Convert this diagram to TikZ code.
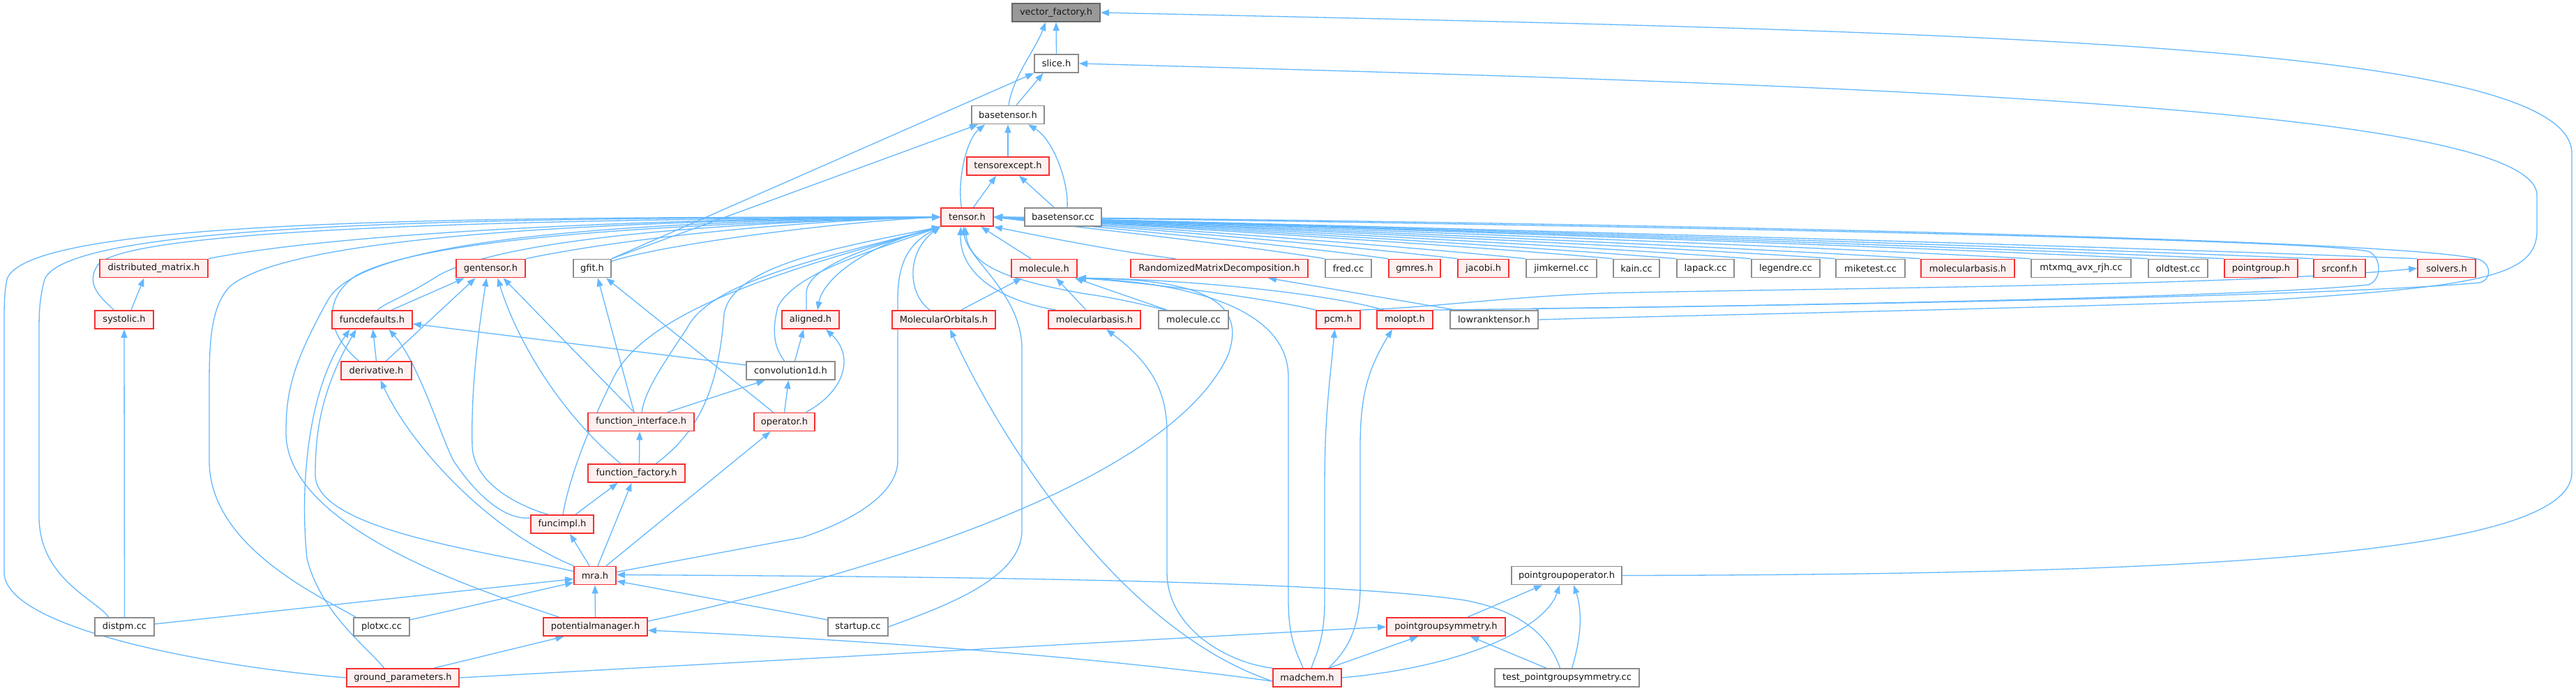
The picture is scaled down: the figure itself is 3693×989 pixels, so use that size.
\documentclass[tikz,border=0pt]{standalone}
\usepackage{fontspec}
\setmainfont{DejaVu Sans}
\usetikzlibrary{arrows.meta,backgrounds}
\definecolor{eblue}{HTML}{63B8FF}
\definecolor{nred}{HTML}{F53030}
\definecolor{nredfill}{HTML}{FFF0F0}
\definecolor{ngray}{HTML}{8C8C8C}
\definecolor{vfborder}{HTML}{666666}
\definecolor{vffill}{HTML}{999999}
\begin{document}
\begin{tikzpicture}[x=1pt,y=-1pt,
  base/.style={rectangle,minimum height=26pt,inner sep=0pt,line width=1.8pt,font=\fontsize{13}{15}\selectfont,text=black!90},
  rbox/.style={base,draw=nred,fill=nredfill},
  gbox/.style={base,draw=ngray,fill=white},
  vbox/.style={base,draw=vfborder,fill=vffill},
  inc/.style={draw=eblue,line width=1.3pt,arrows={Triangle[length=12pt,width=9pt,fill=eblue]-}}]
\useasboundingbox (0,0) rectangle (3693,989);
% ---------- nodes ----------
\node[vbox,minimum width=126pt] (vf) at (1514,18) {vector\_factory.h};
\node[gbox,minimum width=63pt] (slice) at (1514.5,91) {slice.h};
\node[gbox,minimum width=104pt] (basetensor) at (1445,164.5) {basetensor.h};
\node[rbox,minimum width=118pt] (tensorexcept) at (1445,238) {tensorexcept.h};
\node[rbox,minimum width=75pt] (tensor) at (1386.5,311) {tensor.h};
\node[gbox,minimum width=110pt] (basetensorcc) at (1524,311) {basetensor.cc};
% row 5
\node[rbox,minimum width=155pt] (distmat) at (220.5,384.5) {distributed\_matrix.h};
\node[rbox,minimum width=99pt] (gentensor) at (703.5,384.5) {gentensor.h};
\node[gbox,minimum width=54pt] (gfit) at (849,384.5) {gfit.h};
\node[rbox,minimum width=94pt] (molecule) at (1497,384.5) {molecule.h};
\node[rbox,minimum width=254pt] (rmd) at (1748,384.5) {RandomizedMatrixDecomposition.h};
\node[gbox,minimum width=66pt] (fred) at (1933,384.5) {fred.cc};
\node[rbox,minimum width=74pt] (gmres) at (2028,384.5) {gmres.h};
\node[rbox,minimum width=73pt] (jacobi) at (2126.5,384.5) {jacobi.h};
\node[gbox,minimum width=101pt] (jimkernel) at (2238.5,384.5) {jimkernel.cc};
\node[gbox,minimum width=66pt] (kain) at (2346,384.5) {kain.cc};
\node[gbox,minimum width=82pt] (lapack) at (2445,384.5) {lapack.cc};
\node[gbox,minimum width=98pt] (legendre) at (2560,384.5) {legendre.cc};
\node[gbox,minimum width=99pt] (miketest) at (2681.5,384.5) {miketest.cc};
\node[rbox,minimum width=134pt] (molbasisB) at (2821,384.5) {molecularbasis.h};
\node[gbox,minimum width=143pt] (mtxmq) at (2983.5,384.5) {mtxmq\_avx\_rjh.cc};
\node[gbox,minimum width=85pt] (oldtest) at (3122.5,384.5) {oldtest.cc};
\node[rbox,minimum width=105pt] (pointgroup) at (3241.5,384.5) {pointgroup.h};
\node[rbox,minimum width=74pt] (srconf) at (3354,384.5) {srconf.h};
\node[rbox,minimum width=83pt] (solvers) at (3507.5,384.5) {solvers.h};
% row 6
\node[rbox,minimum width=84pt] (systolic) at (178,458) {systolic.h};
\node[rbox,minimum width=115pt] (funcdefaults) at (533.5,458) {funcdefaults.h};
\node[rbox,minimum width=82pt] (aligned) at (1162,458) {aligned.h};
\node[rbox,minimum width=148pt] (molorb) at (1353,458) {MolecularOrbitals.h};
\node[rbox,minimum width=132pt] (molbasis) at (1569,458) {molecularbasis.h};
\node[gbox,minimum width=100pt] (moleculecc) at (1711,458) {molecule.cc};
\node[rbox,minimum width=63pt] (pcm) at (1918.5,458) {pcm.h};
\node[rbox,minimum width=80pt] (molopt) at (2014,458) {molopt.h};
\node[gbox,minimum width=126pt] (lowrank) at (2142,458) {lowranktensor.h};
% row 7
\node[rbox,minimum width=101pt] (derivative) at (539.5,531) {derivative.h};
\node[gbox,minimum width=127pt] (conv1d) at (1133.5,531) {convolution1d.h};
% row 8
\node[rbox,minimum width=152pt] (funcint) at (919,604.5) {function\_interface.h};
\node[rbox,minimum width=87pt] (operator) at (1124.5,604.5) {operator.h};
% row 9
\node[rbox,minimum width=139pt] (funcfac) at (912.5,678) {function\_factory.h};
% row 10
\node[rbox,minimum width=90pt] (funcimpl) at (806,751) {funcimpl.h};
% row 11
\node[rbox,minimum width=60pt] (mra) at (853,824.5) {mra.h};
\node[gbox,minimum width=158pt] (pgo) at (2246,824.5) {pointgroupoperator.h};
% row 12
\node[gbox,minimum width=85pt] (distpm) at (178.5,898) {distpm.cc};
\node[gbox,minimum width=80pt] (plotxc) at (547,898) {plotxc.cc};
\node[rbox,minimum width=149pt] (potman) at (853.5,898) {potentialmanager.h};
\node[gbox,minimum width=86pt] (startup) at (1230,898) {startup.cc};
\node[rbox,minimum width=170pt] (pgs) at (2073,898) {pointgroupsymmetry.h};
% row 13
\node[rbox,minimum width=161pt] (ground) at (577.5,971) {ground\_parameters.h};
\node[rbox,minimum width=98pt] (madchem) at (1874,971) {madchem.h};
\node[gbox,minimum width=207pt] (testpgs) at (2246.5,971) {test\_pointgroupsymmetry.cc};
% ---------- edges (behind the nodes) ----------
\begin{pgfonlayer}{background}
\fill[white] (0,0) rectangle (3693,989);
\draw[inc] (vf.south) -- (slice.north);
\draw[inc] ([xshift=-15pt]vf.south) .. controls (1485,70) and (1452,110) .. ([xshift=1pt]basetensor.north);
\draw[inc] (vf.east) .. controls (2800,45) and (3687,60) .. (3687,220) -- (3687,677) .. controls (3687,800) and (3100,823) .. (pgo.east);
\draw[inc] ([xshift=-19pt]slice.south) -- ([xshift=12pt]basetensor.north);
\draw[inc] (slice.south west) -- (gfit.north east);
\draw[inc] ([xshift=10pt]basetensor.south west) -- (gfit.north east);
\draw[inc] (slice.east) .. controls (2600,120) and (3637,150) .. (3637,280) -- (3637,330) .. controls (3637,395) and (3560,410) .. (3250,430) .. controls (2800,445) and (2400,452) .. (lowrank.east);
\draw[inc] (basetensor.south) -- (tensorexcept.north);
\draw[inc] ([xshift=-33pt]basetensor.south) .. controls (1385,200) and (1372,260) .. ([xshift=-8pt]tensor.north);
\draw[inc] ([xshift=29pt]basetensor.south) .. controls (1510,200) and (1532,260) .. ([xshift=6pt]basetensorcc.north);
\draw[inc] ([xshift=-17pt]tensorexcept.south) -- ([xshift=9pt]tensor.north);
\draw[inc] ([xshift=16pt]tensorexcept.south) -- ([xshift=-13pt]basetensorcc.north);
% tensor left fan
\draw[inc] (tensor.west) .. controls (1000,312) and (500,330) .. (distmat.north east);
\draw[inc] (tensor.west) .. controls (1150,316) and (900,340) .. (gentensor.north east);
\draw[inc] (tensor.west) .. controls (1200,318) and (950,350) .. (gfit.20);
\draw[inc] (tensor.west) .. controls (800,314) and (180,325) .. (140,380) .. controls (120,410) and (150,430) .. ([xshift=-15pt]systolic.north);
\draw[inc] (tensor.west) .. controls (700,312) and (100,318) .. (64,400) .. controls (56,430) and (56,450) .. (56,480) -- (56,740) .. controls (56,830) and (140,860) .. ([xshift=-23pt]distpm.north);
\draw[inc] (tensor.west) .. controls (700,311) and (40,312) .. (10,400) .. controls (6,420) and (6,440) .. (6,460) -- (6,820) .. controls (6,900) and (300,955) .. (ground.west);
\draw[inc] (tensor.west) .. controls (900,316) and (420,335) .. (330,410) .. controls (300,440) and (300,500) .. (300,560) -- (300,660) .. controls (300,780) and (450,850) .. ([xshift=-37pt]plotxc.north);
\draw[inc] (tensor.west) .. controls (900,318) and (520,340) .. (470,430) .. controls (420,520) and (410,560) .. (410,620) .. controls (410,760) and (700,850) .. ([xshift=-52pt]potman.north);
\draw[inc] (tensor.west) .. controls (1000,320) and (700,345) .. (620,400) .. controls (580,425) and (550,435) .. ([xshift=8pt]funcdefaults.north);
\draw[inc] (tensor.west) .. controls (900,322) and (600,345) .. (510,395) .. controls (460,430) and (470,480) .. ([xshift=-25pt]derivative.north);
% tensor from below-left
\draw[inc] (tensor.south west) .. controls (1150,380) and (930,440) .. (880,540) .. controls (840,620) and (815,690) .. ([xshift=1pt]funcimpl.north);
\draw[inc] (tensor.south west) .. controls (1200,355) and (1050,380) .. (1038,450) .. controls (1030,560) and (1000,620) .. ([xshift=28pt]funcfac.north);
\draw[inc] (tensor.south west) .. controls (1200,365) and (1020,400) .. (985,470) .. controls (945,530) and (925,560) .. ([xshift=1pt]funcint.north);
\draw[inc] (tensor.south west) .. controls (1250,360) and (1140,390) .. (1115,440) .. controls (1105,480) and (1112,500) .. ([xshift=-9pt]conv1d.north);
\draw[inc] (tensor.south west) .. controls (1260,350) and (1156,380) .. (1156,420) -- ([xshift=-6pt]aligned.north);
\draw[inc] ([xshift=10pt]aligned.north) .. controls (1180,400) and (1240,350) .. (tensor.south west);
\draw[inc] (tensor.south west) .. controls (1300,350) and (1287,380) .. (1287,430) -- (1287,660) .. controls (1287,700) and (1240,740) .. (1150,770) -- ([yshift=5pt]mra.east);
\draw[inc] (tensor.south west) .. controls (1300,360) and (1300,420) .. ([xshift=-20pt]molorb.north);
\draw[inc] ([xshift=-9pt]tensor.south) .. controls (1375,390) and (1430,430) .. ([xshift=-55pt]molbasis.north);
\draw[inc] ([xshift=-3pt]tensor.south) .. controls (1390,380) and (1440,400) .. (1550,420) .. controls (1620,430) and (1650,440) .. ([xshift=-38pt]moleculecc.north);
\draw[inc] ([xshift=-5pt]tensor.south) .. controls (1385,370) and (1465,420) .. (1465,500) -- (1465,760) .. controls (1465,830) and (1350,870) .. (startup.east);
\draw[inc] ([xshift=20pt]tensor.south) -- ([xshift=-19pt]molecule.north);
\draw[inc] (tensor.south east) .. controls (1500,340) and (1600,360) .. ([xshift=-63pt]rmd.north);
% tensor right fan
\draw[inc] (tensor.east) .. controls (1540,325) and (1772,350) .. (fred.north west);
\draw[inc] (tensor.east) .. controls (1568,325) and (1840,350) .. (gmres.north west);
\draw[inc] (tensor.east) .. controls (1597,325) and (1914,350) .. (jacobi.north west);
\draw[inc] (tensor.east) .. controls (1627,325) and (1988,350) .. (jimkernel.north west);
\draw[inc] (tensor.east) .. controls (1664,325) and (2081,350) .. (kain.north west);
\draw[inc] (tensor.east) .. controls (1691,325) and (2150,350) .. (lapack.north west);
\draw[inc] (tensor.east) .. controls (1723,325) and (2230,350) .. (legendre.north west);
\draw[inc] (tensor.east) .. controls (1760,325) and (2320,350) .. (miketest.north west);
\draw[inc] (tensor.east) .. controls (1796,325) and (2412,350) .. (molbasisB.north west);
\draw[inc] (tensor.east) .. controls (1844,325) and (2530,350) .. (mtxmq.north west);
\draw[inc] (tensor.east) .. controls (1894,325) and (2656,350) .. (oldtest.north west);
\draw[inc] (tensor.east) .. controls (1927,325) and (2738,350) .. (pointgroup.north west);
\draw[inc] (tensor.east) .. controls (1965,325) and (2834,350) .. (srconf.north west);
\draw[inc] (tensor.east) .. controls (2010,325) and (2946,350) .. (solvers.north west);
% loops on the right
\draw[inc] (tensor.east) .. controls (2000,318) and (3300,340) .. (3395,360) .. controls (3415,368) and (3415,402) .. (3395,408) .. controls (3200,428) and (2400,440) .. (2200,442) -- (lowrank.north east);
\draw[inc] (tensor.east) .. controls (2100,316) and (3450,340) .. (3555,372) .. controls (3572,380) and (3572,400) .. (3555,405) .. controls (3300,428) and (2400,440) .. (molopt.north east);
\draw[inc] (solvers.west) .. controls (3200,410) and (2600,413) .. (2300,420) .. controls (2150,426) and (2060,440) .. (pcm.north east);
% molecule cluster
\draw[inc] ([xshift=-32pt]molecule.south) -- ([xshift=25pt]molorb.north);
\draw[inc] ([xshift=17pt]molecule.south) -- ([xshift=-12pt]molbasis.north);
\draw[inc] ([xshift=-4pt]molecule.south east) -- ([xshift=-38pt]moleculecc.north);
\draw[inc] (molecule.south east) .. controls (1650,405) and (1830,430) .. (pcm.north west);
\draw[inc] (molecule.south east) .. controls (1700,400) and (1900,420) .. ([xshift=-30pt]molopt.north);
\draw[inc] (molecule.south east) .. controls (1720,400) and (1790,430) .. (1760,510) .. controls (1680,680) and (1300,810) .. ([yshift=8pt]potman.east);
\draw[inc] (molecule.south east) .. controls (1700,405) and (1847,440) .. (1847,540) -- (1847,860) .. controls (1847,920) and (1862,940) .. ([xshift=-6pt]madchem.north);
\draw[inc] ([xshift=9pt]molorb.south) .. controls (1430,620) and (1600,900) .. ([yshift=-5pt]madchem.west);
\draw[inc] ([xshift=17pt]molbasis.south) .. controls (1650,520) and (1673,560) .. (1673,620) -- (1673,820) .. controls (1673,900) and (1760,950) .. (madchem.north west);
\draw[inc] ([xshift=-5pt]pcm.south) .. controls (1905,560) and (1899,600) .. (1899,700) -- (1899,860) .. controls (1899,920) and (1885,940) .. ([xshift=6pt]madchem.north);
\draw[inc] ([xshift=-18pt]molopt.south) .. controls (1960,530) and (1950,570) .. (1950,640) -- (1950,840) .. controls (1950,920) and (1915,945) .. ([xshift=31pt]madchem.north);
\draw[inc] ([xshift=70pt]rmd.south) -- ([xshift=-55pt]lowrank.north);
% lower left cluster
\draw[inc] ([xshift=-14pt]distmat.south) -- ([xshift=10pt]systolic.north);
\draw[inc] (systolic.south) -- (distpm.north);
\draw[inc] ([xshift=-38pt]gentensor.south) -- ([xshift=28pt]funcdefaults.north);
\draw[inc] ([xshift=-22pt]gentensor.south) -- ([xshift=14pt]derivative.north);
\draw[inc] ([xshift=-6pt]gentensor.south) .. controls (685,480) and (675,560) .. (677,640) .. controls (680,700) and (760,730) .. ([xshift=-20pt]funcimpl.north);
\draw[inc] ([xshift=10pt]gentensor.south) .. controls (735,470) and (790,580) .. ([xshift=-23pt]funcfac.north);
\draw[inc] ([xshift=18pt]gentensor.south) -- ([xshift=-10pt]funcint.north);
\draw[inc] ([xshift=8pt]gfit.south) -- ([xshift=-10pt]funcint.north);
\draw[inc] ([xshift=20pt]gfit.south) -- ([xshift=-16pt]operator.north);
\draw[inc] ([xshift=1pt]funcdefaults.south) -- (derivative.north);
\draw[inc] ([yshift=-6pt]funcdefaults.east) -- ([yshift=8pt]conv1d.west);
\draw[inc] ([xshift=-32pt]funcdefaults.south) .. controls (440,560) and (430,700) .. (440,800) .. controls (460,880) and (530,930) .. ([xshift=-27pt]ground.north);
\draw[inc] ([xshift=-23pt]funcdefaults.south) .. controls (460,560) and (452,620) .. (452,680) .. controls (452,760) and (700,790) .. ([yshift=6pt]mra.west);
\draw[inc] ([xshift=24pt]funcdefaults.south) .. controls (600,520) and (630,620) .. (650,660) .. controls (690,720) and (730,745) .. ([yshift=9pt]funcimpl.west);
\draw[inc] ([xshift=6pt]derivative.south) .. controls (590,640) and (700,760) .. (mra.north west);
\draw[inc] ([xshift=-37pt]conv1d.south) -- ([xshift=38pt]funcint.north);
\draw[inc] ([xshift=-3pt]conv1d.south) -- (operator.north);
\draw[inc] ([xshift=-10pt]aligned.south) -- ([xshift=6pt]conv1d.north);
\draw[inc] ([xshift=22pt]aligned.south) .. controls (1225,510) and (1212,560) .. ([xshift=31pt]operator.north);
\draw[inc] ([xshift=-2pt]funcint.south) -- ([xshift=4pt]funcfac.north);
\draw[inc] ([xshift=-27pt]funcfac.south) -- ([xshift=19pt]funcimpl.north);
\draw[inc] ([xshift=-7pt]funcfac.south) -- ([xshift=4pt]mra.north);
\draw[inc] ([xshift=-20pt]operator.south) -- ([xshift=16pt]mra.north);
\draw[inc] ([xshift=11pt]funcimpl.south) -- ([xshift=-8pt]mra.north);
\draw[inc] ([yshift=-5pt]mra.west) -- ([yshift=4pt]distpm.east);
\draw[inc] ([yshift=-10pt]mra.west) -- ([yshift=10pt]plotxc.east);
\draw[inc] (mra.south) -- (potman.north);
\draw[inc] ([yshift=-8pt]mra.east) -- ([yshift=10pt]startup.west);
\draw[inc] ([yshift=1pt]mra.east) .. controls (1300,826) and (1900,830) .. (2100,860) .. controls (2180,875) and (2220,910) .. ([xshift=-10pt]testpgs.north);
\draw[inc] ([xshift=-45pt]potman.south) -- ([xshift=45pt]ground.north);
\draw[inc] ([yshift=-5pt]potman.east) .. controls (1300,920) and (1600,945) .. ([yshift=-5pt]madchem.west);
\draw[inc] (pgs.west) -- (ground.east);
% point group cluster
\draw[inc] ([xshift=-35pt]pgo.south) -- ([xshift=31pt]pgs.north);
\draw[inc] ([xshift=-10pt]pgo.south) .. controls (2215,900) and (2100,955) .. (madchem.east);
\draw[inc] ([xshift=10pt]pgo.south) .. controls (2270,880) and (2265,920) .. ([xshift=7pt]testpgs.north);
\draw[inc] ([xshift=-40pt]pgs.south) -- ([xshift=31pt]madchem.north);
\draw[inc] ([xshift=35pt]pgs.south) -- ([xshift=-30pt]testpgs.north);
\end{pgfonlayer}
\end{tikzpicture}
\end{document}
